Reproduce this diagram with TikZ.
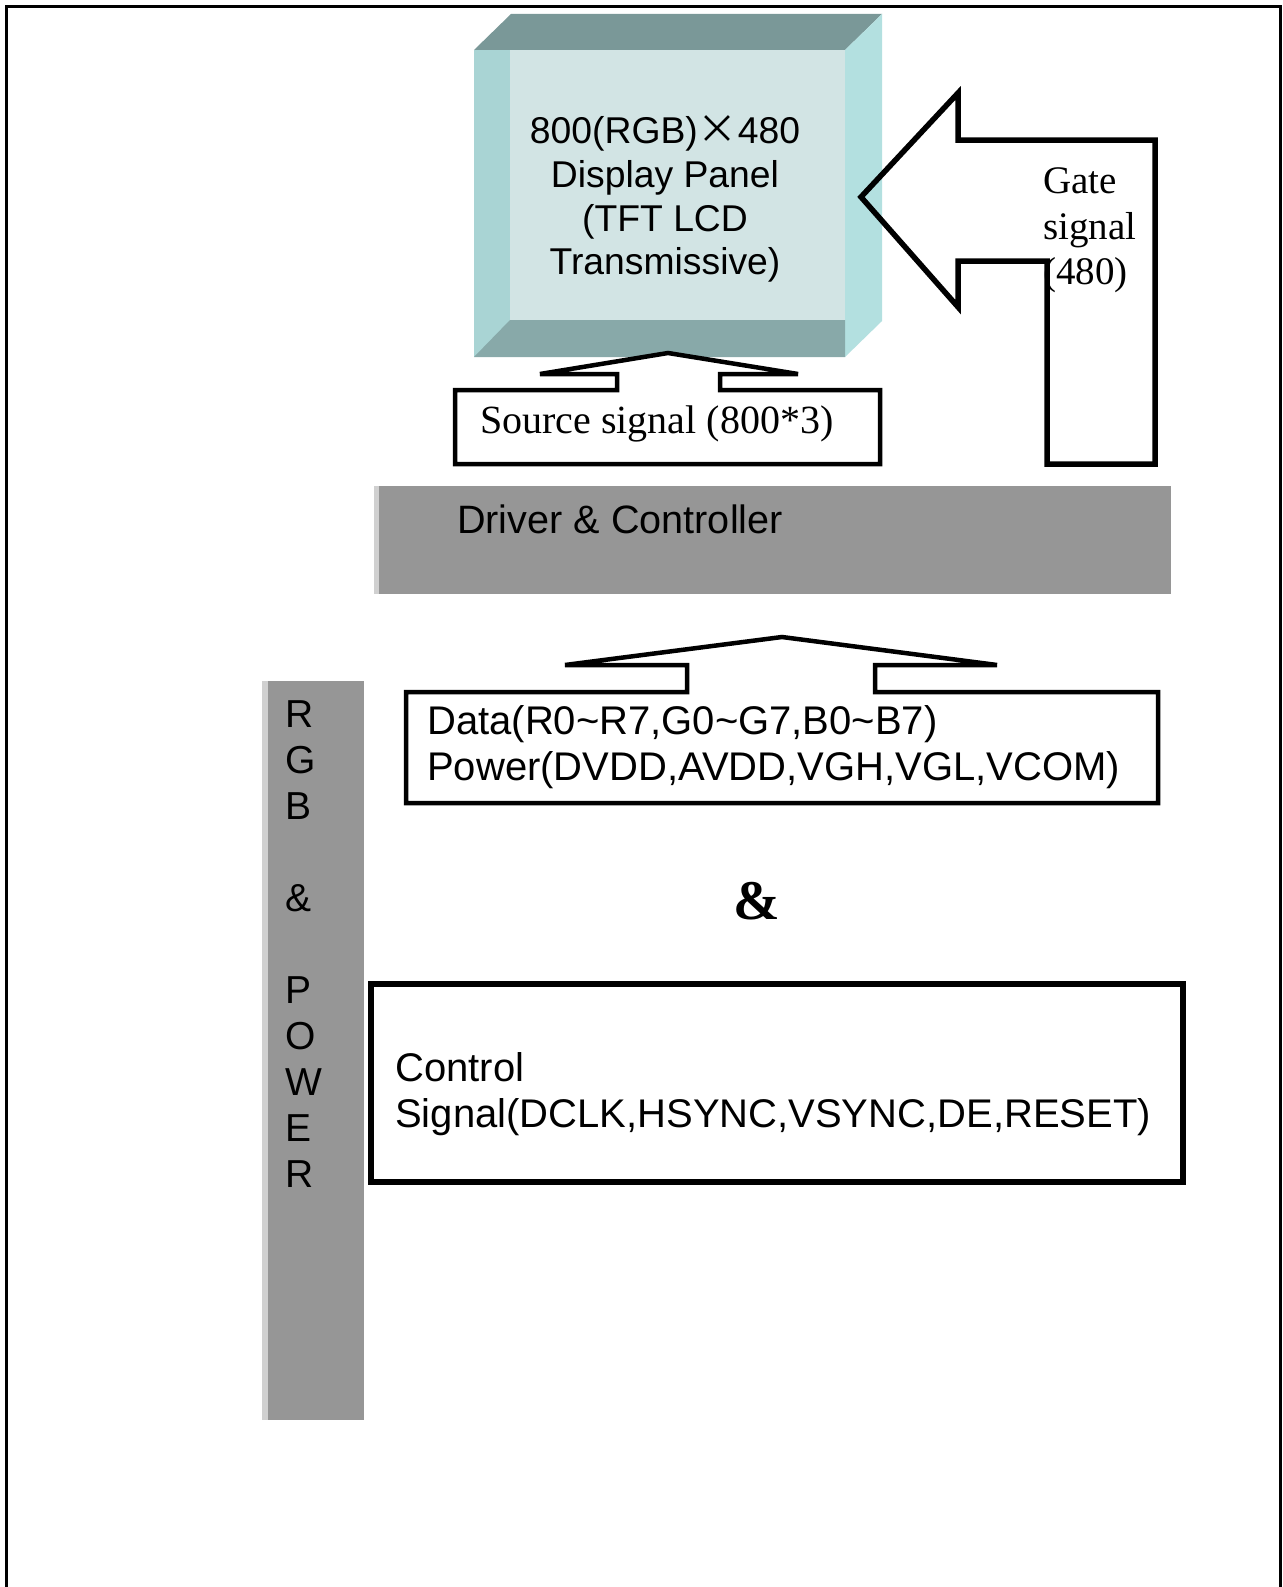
\documentclass[tikz,border=0pt]{standalone}
\usepackage{fontspec}
\setmainfont{Liberation Serif}
\newfontfamily\arialf{Liberation Sans}
\newfontfamily\cjkf{Noto Sans CJK SC}
\definecolor{ctop}{HTML}{7A9898}
\definecolor{cright}{HTML}{B3E0E0}
\definecolor{cleft}{HTML}{A9D4D4}
\definecolor{cface}{HTML}{D2E4E4}
\definecolor{cbottom}{HTML}{88A9A9}
\definecolor{cbar}{HTML}{969696}
\definecolor{cbarl}{HTML}{D0D0D0}
\begin{document}
\begin{tikzpicture}[x=1pt,y=-1pt,
  blk/.style={draw=black,line width=4.5pt,line join=miter},
  sans/.style={font=\arialf\fontsize{40}{45.5}\selectfont,inner sep=0pt},
  paneltext/.style={font=\arialf\fontsize{37.3}{43.9}\selectfont,inner sep=0pt,align=center},
  ser/.style={font=\fontsize{39}{45.5}\selectfont,inner sep=0pt},
  bar/.style={fill=cbar}]
\useasboundingbox (0,0) rectangle (1282,1587);
\fill[white] (0,0) rectangle (1282,1587);
% outer frame
\draw[line width=3pt] (6,1600) -- (6,7) -- (1280,7) -- (1280,1600);
% display panel (cube)
\fill[ctop] (474,50) -- (511,14) -- (882,14) -- (845,50) -- cycle;
\fill[cright] (845,50) -- (882,14) -- (882,321) -- (845,357) -- cycle;
\fill[cleft] (474,50) rectangle (510.5,357);
\fill[cface] (510,50) rectangle (845,320.5);
\fill[cbottom] (474,357) -- (510,320) -- (845,320) -- (845,357) -- cycle;
\node[paneltext] (panel) at (665,199) {800(RGB){\cjkf\fontsize{40}{40}\selectfont ×}480\\Display Panel\\(TFT LCD\\Transmissive)};
% gate signal arrow
\coordinate (gtip) at (861,197);
\draw[blk,line width=5.5pt] (gtip) -- (958,93) -- (958,140) -- (1155,140) -- (1155,464) -- (1047,464) -- (1047,261) -- (958,261) -- (958,307) -- cycle;
\node[ser,align=left,anchor=west] (gate) at (1043,230.5) {Gate\\signal\\(480)};
% source signal arrow + box
\coordinate (stip) at (668,353);
\draw[blk,fill=white] (455,390) -- (617,390) -- (617,374) -- (540,374) -- (stip) -- (798,374) -- (720,374) -- (720,390) -- (880,390) -- (880,464) -- (455,464) -- cycle;
\node[ser,font=\fontsize{40}{45.5}\selectfont,anchor=base west] (src) at (480,433) {Source signal (800*3)};
% driver & controller
\fill[bar] (374,486) rectangle (1171,594);
\fill[cbarl] (374,486) rectangle (379,594);
\node[sans,font=\arialf\fontsize{39.6}{45}\selectfont,anchor=base west] (drv) at (457,533) {Driver \& Controller};
% data/power arrow + box
\coordinate (dtip) at (782,637);
\draw[blk] (406,692) -- (687,692) -- (687,665) -- (565,665) -- (dtip) -- (997,665) -- (875,665) -- (875,692) -- (1158,692) -- (1158,803) -- (406,803) -- cycle;
\node[sans,align=left,anchor=west] (data) at (427,747) {Data(R0\textasciitilde R7,G0\textasciitilde G7,B0\textasciitilde B7)\\Power(DVDD,AVDD,VGH,VGL,VCOM)};
% ampersand
\node[font=\bfseries\fontsize{56}{56}\selectfont,inner sep=0pt] (amp) at (757,901) {\&};
% control box
\draw[line width=6pt] (371,984) rectangle (1183,1182);
\node[sans,align=left,anchor=west] (ctrl) at (395,1094) {Control\\Signal(DCLK,HSYNC,VSYNC,DE,RESET)};
% RGB & POWER bar
\fill[bar] (262,681) rectangle (364,1420);
\fill[cbarl] (262,681) rectangle (268,1420);
\node[font=\arialf\fontsize{39}{46}\selectfont,inner sep=0pt,align=left,anchor=west] (rgbp) at (285,944) {R\\G\\B\\[46pt]\&\\[46pt]P\\O\\W\\E\\R};
\end{tikzpicture}
\end{document}
